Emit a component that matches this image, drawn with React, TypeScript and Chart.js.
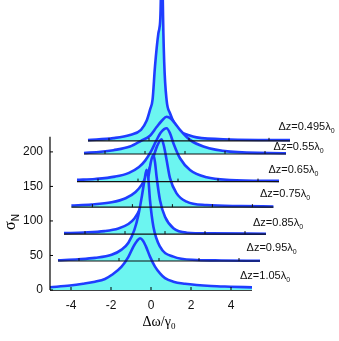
import React, { useEffect, useRef } from 'react';
import { Chart, registerables } from 'chart.js';

Chart.register(...registerables);

// ---- data (front curve first) ----
const dzLabels = ['1.05', '0.95', '0.85', '0.75', '0.65', '0.55', '0.495'];
const baselines = [0, 42, 81, 120, 157, 197, 216];
const baselineLeft = [-5.05, -4.65, -4.35, -3.98, -3.7, -3.35, -3.15];
const baselineSpan = 10.1;

const c105X = [-5.05, -4.05, -3.4, -2.8, -2.3, -1.97, -1.47, -1.13, -0.88, -0.7, -0.55, -0.4, -0.25, -0.05, 0.2, 0.45, 0.7, 1.12, 1.7, 2.28, 3.0, 3.95, 5.05];
const c105Y = [4, 6.5, 9, 12, 16, 21.7, 33.8, 48, 62.8, 71, 75, 71.5, 62.8, 48.3, 33.8, 24, 17.1, 12, 9, 7.2, 5.8, 4.8, 3.8];

const c095X = [-4.65, -3.63, -2.8, -1.97, -1.47, -1.13, -0.83, -0.63, -0.45, -0.32, -0.22, -0.13, -0.05, 0.12, 0.45, 1.12, 2.28, 3.5, 5.45];
const c095Y = [43, 44.5, 46.5, 51, 58.5, 68.5, 87, 108.5, 137, 160, 174, 160, 130, 91.7, 62.8, 48.3, 43.5, 42.8, 42.3];

const c085X = [-4.35, -3.33, -2.33, -1.63, -1.13, -0.83, -0.53, -0.33, -0.13, 0.0, 0.12, 0.2, 0.28, 0.45, 0.7, 1.12, 1.78, 3.0, 5.75];
const c085Y = [82.4, 83.3, 85.3, 89.1, 95.6, 103.6, 119.2, 137.5, 164, 186, 195.7, 185, 164, 130, 106, 89.4, 83, 82, 81.5];

const c075X = [-3.98, -2.97, -1.97, -1.27, -0.77, -0.47, -0.17, 0.085, 0.3, 0.53, 0.65, 0.78, 0.95, 1.28, 1.78, 2.78, 4.5, 6.12];
const c075Y = [122.3, 123.8, 127.1, 132.9, 142, 152.2, 169, 189.4, 208, 218.4, 208, 188.4, 162, 140, 128, 123, 121.6, 121];

const c065X = [-3.7, -2.8, -1.8, -1.1, -0.6, -0.3, 0, 0.25, 0.5, 0.78, 0.95, 1.12, 1.45, 1.95, 2.78, 3.95, 6.4];
const c065Y = [159.5, 160.8, 164.2, 169.7, 178.2, 187, 200.6, 215.5, 228.5, 234.3, 227, 212.6, 190.8, 173.9, 163.3, 159.4, 158];

const c055X = [-3.35, -2.5, -1.88, -1.05, -0.5, -0.05, 0.28, 0.55, 0.78, 1.0, 1.2, 1.45, 1.95, 2.62, 3.95, 6.75];
const c055Y = [198.5, 200.2, 202.5, 207.7, 216, 223.5, 236, 245.5, 251, 248, 241.3, 232, 217.4, 207.7, 200.4, 198];

const c0495X = [-3.15, -1.88, -1.05, -0.5, -0.22, -0.05, 0.08, 0.2, 0.37, 0.42, 0.49, 0.53, 0.59, 0.66, 0.78, 0.95, 1.2, 1.45, 1.9, 2.28, 3.95, 6.95];
const c0495Y = [217, 220, 224.6, 232, 245, 261, 276, 324, 372, 379, 420, 600, 420, 330, 275, 256, 240, 230, 224, 221, 218, 217];

const curveX = [c105X, c095X, c085X, c075X, c065X, c055X, c0495X];
const curveY = [c105Y, c095Y, c085Y, c075Y, c065Y, c055Y, c0495Y];

const xTicks = [-4, -2, 0, 2, 4];
const yTicks = [0, 50, 100, 150, 200];

// label anchors (data units: left x, middle y)
const labelX = [4.45, 4.78, 5.1, 5.45, 5.87, 6.13, 6.37];
const labelY = [19.6, 60.9, 97, 139, 174, 207.2, 236.2];

// ---- layout / style ----
const X_MIN = -5.05;
const X_MAX = 9.4;
const X_AXIS_END = 5.05;
const Y_MAX = 420;
const Y_AXIS_TOP = 222;
const LINE_BLUE = '#1f3dff';
const FILL_CYAN = '#6cf5f0';

const overlay = {
  id: 'overlay',
  beforeDatasetsDraw(chart: any) {
    const { ctx, scales } = chart;
    const x = scales.x, y = scales.y;
    ctx.save();
    ctx.strokeStyle = '#000';
    ctx.lineWidth = 1.3;
    const y0 = y.getPixelForValue(0);
    ctx.beginPath();
    ctx.moveTo(x.getPixelForValue(X_MIN), y0);
    ctx.lineTo(x.getPixelForValue(X_AXIS_END), y0);
    ctx.stroke();
    ctx.restore();
  },
  afterDatasetsDraw(chart: any) {
    const { ctx, scales } = chart;
    const x = scales.x, y = scales.y;
    ctx.save();
    // baselines with ticks
    ctx.strokeStyle = '#111';
    for (let i = 1; i < baselines.length; i++) {
      const py = y.getPixelForValue(baselines[i]);
      const l = baselineLeft[i];
      ctx.lineWidth = 1.2;
      ctx.beginPath();
      ctx.moveTo(x.getPixelForValue(l), py);
      ctx.lineTo(x.getPixelForValue(l + baselineSpan), py);
      ctx.stroke();
      ctx.lineWidth = 1;
      ctx.beginPath();
      xTicks.forEach((t) => {
        const px = x.getPixelForValue(l + (t - X_MIN));
        ctx.moveTo(px, py);
        ctx.lineTo(px, py - 3);
      });
      ctx.stroke();
    }
    // y axis line and ticks
    const ax = x.getPixelForValue(X_MIN);
    ctx.strokeStyle = '#000';
    ctx.lineWidth = 1.2;
    ctx.beginPath();
    ctx.moveTo(ax, y.getPixelForValue(0));
    ctx.lineTo(ax, y.getPixelForValue(Y_AXIS_TOP));
    ctx.stroke();
    ctx.lineWidth = 1;
    ctx.beginPath();
    yTicks.forEach((t) => {
      const py = y.getPixelForValue(t);
      ctx.moveTo(ax, py);
      ctx.lineTo(ax + 3, py);
    });
    xTicks.forEach((t) => {
      const px = x.getPixelForValue(t);
      ctx.moveTo(px, y.getPixelForValue(0));
      ctx.lineTo(px, y.getPixelForValue(0) - 3);
    });
    ctx.stroke();

    // curve labels
    ctx.fillStyle = '#111';
    ctx.textBaseline = 'middle';
    ctx.textAlign = 'left';
    for (let i = 0; i < dzLabels.length; i++) {
      const px = x.getPixelForValue(labelX[i]);
      const py = y.getPixelForValue(labelY[i]);
      const main = 'Δz=' + dzLabels[i] + 'λ';
      ctx.font = '11px "Liberation Sans", Arial, sans-serif';
      ctx.fillText(main, px, py);
      const w = ctx.measureText(main).width;
      ctx.font = '7px "Liberation Sans", Arial, sans-serif';
      ctx.fillText('0', px + w, py + 4);
    }

    // x title
    ctx.fillStyle = '#000';
    const xt = 'Δω/γ';
    ctx.font = '14px "Liberation Serif", "Times New Roman", serif';
    const xtw = ctx.measureText(xt).width;
    ctx.font = '9px "Liberation Serif", serif';
    const xsw = ctx.measureText('0').width;
    const xStart = 159 - (xtw + xsw) / 2;
    ctx.font = '14px "Liberation Serif", "Times New Roman", serif';
    ctx.fillText(xt, xStart, 322);
    ctx.font = '9px "Liberation Serif", serif';
    ctx.fillText('0', xStart + xtw, 327);

    // y title (rotated)
    ctx.translate(12, 222);
    ctx.rotate(-Math.PI / 2);
    ctx.font = '16px "Liberation Serif", "Times New Roman", serif';
    const sw = ctx.measureText('σ').width;
    ctx.font = '10px "Liberation Sans", Arial, sans-serif';
    const nw = ctx.measureText('N').width;
    const s0 = -(sw + nw) / 2;
    ctx.font = '16px "Liberation Serif", "Times New Roman", serif';
    ctx.fillText('σ', s0, -1);
    ctx.font = '10px "Liberation Sans", Arial, sans-serif';
    ctx.fillText('N', s0 + sw, 4);
    ctx.restore();
  },
};

export default function App() {
  const ref = useRef<HTMLCanvasElement | null>(null);
  useEffect(() => {
    if (!ref.current) return;
    const datasets = curveX.map((xs, i) => ({
      label: dzLabels[i],
      data: xs.map((xv, k) => ({ x: xv, y: curveY[i][k] })),
      borderColor: LINE_BLUE,
      backgroundColor: FILL_CYAN,
      borderWidth: 2.6,
      pointRadius: 0,
      cubicInterpolationMode: 'monotone' as const,
      fill: { value: baselines[i] },
    }));
    const chart = new Chart(ref.current, {
      type: 'line',
      data: { datasets },
      options: {
        animation: false,
        responsive: false,
        layout: { padding: 0 },
        plugins: { legend: { display: false }, tooltip: { enabled: false }, filler: { propagate: false } },
        scales: {
          x: {
            type: 'linear',
            min: X_MIN,
            max: X_MAX,
            grid: { display: false, drawTicks: false },
            border: { display: false },
            afterBuildTicks: (s: any) => { s.ticks = xTicks.map((v) => ({ value: v })); },
            afterFit: (s: any) => { s.height = 51; s.paddingLeft = 0; s.paddingRight = 0; },
            ticks: { padding: 8, color: '#111', font: { size: 12, family: '"Liberation Sans", Arial, sans-serif' }, maxRotation: 0, autoSkip: false },
          },
          y: {
            type: 'linear',
            min: 0,
            max: Y_MAX,
            grid: { display: false, drawTicks: false },
            border: { display: false },
            afterBuildTicks: (s: any) => { s.ticks = yTicks.map((v) => ({ value: v })); },
            afterFit: (s: any) => { s.width = 50; s.paddingTop = 0; s.paddingBottom = 0; },
            ticks: { padding: 7, color: '#111', font: { size: 12, family: '"Liberation Sans", Arial, sans-serif' }, autoSkip: false },
          },
        },
      },
      plugins: [overlay],
    });
    return () => chart.destroy();
  }, []);
  return (
    <div style={{ position: 'fixed', left: 0, top: 0, width: 339, height: 341, background: '#fff' }}>
      <canvas ref={ref} width={339} height={341} style={{ display: 'block' }} />
    </div>
  );
}
